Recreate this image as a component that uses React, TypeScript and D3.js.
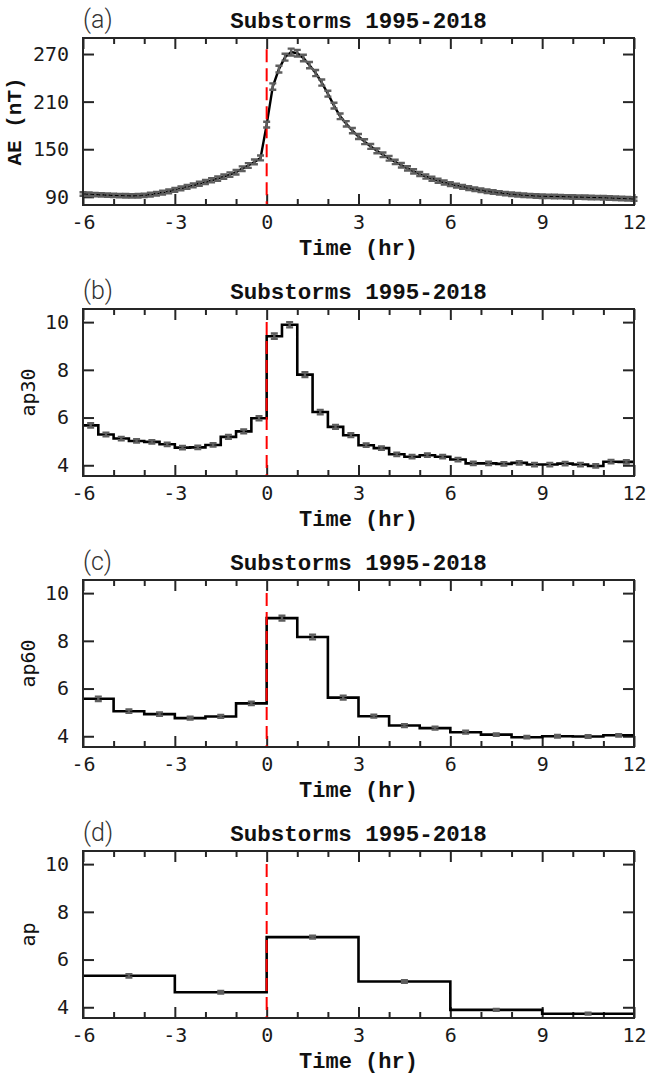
import { useEffect, useRef } from "react";
import * as d3 from "d3";

// ---- data ----
const titleText = "Substorms 1995-2018";
const panelLetters = ["(a)", "(b)", "(c)", "(d)"];
const yLabels = ["AE (nT)", "ap30", "ap60", "ap"];
const xLabel = "Time (hr)";

const xMajorTicks = [-6, -3, 0, 3, 6, 9, 12];
const xMinorTicks = [-5, -4, -2, -1, 1, 2, 4, 5, 7, 8, 10, 11];
const aeTicks = [90, 150, 210, 270];
const apTicks = [4, 6, 8, 10];

// AE: one point every 0.2 hr from -6 to 12
const aeStart = -6;
const aeStepHr = 0.2;
const aeValues = [
  93.5, 93.2, 92.8, 92.5, 92.2, 91.8, 91.5, 91.3, 91.2, 91.4,
  91.9, 92.8, 94.0, 95.3, 97.0, 98.8, 100.6, 102.5, 104.4, 106.5,
  108.6, 110.8, 113.0, 115.4, 118.0, 121.0, 125.5, 129.5, 134.0, 139.0,
  181, 229, 251, 266, 272.5, 271, 265, 256, 246, 234,
  220, 205, 191.5, 182, 173.5, 166, 159.5, 153.5, 148, 143,
  138.5, 134, 129.8, 125.8, 122.1, 118.7, 115.6, 112.8, 110.3, 108.0,
  106.0, 104.2, 102.5, 101.0, 99.6, 98.3, 97.1, 96.0, 95.0, 94.1,
  93.3, 92.6, 92.0, 91.5, 91.1, 90.8, 90.6, 90.4, 90.2, 90.0,
  89.8, 89.6, 89.4, 89.2, 89.0, 88.8, 88.5, 88.2, 87.9, 87.6,
  87.3,
];
const aeErrors = [
  2.2, 2.2, 2.2, 2.2, 2.2, 2.2, 2.2, 2.2, 2.2, 2.2,
  2.2, 2.3, 2.3, 2.3, 2.4, 2.4, 2.4, 2.5, 2.5, 2.5,
  2.6, 2.6, 2.7, 2.7, 2.8, 2.8, 2.9, 3.0, 3.0, 3.1,
  3.6, 4.0, 4.2, 4.3, 4.3, 4.2, 4.1, 4.0, 3.9, 3.8,
  3.7, 3.6, 3.5, 3.4, 3.3, 3.2, 3.1, 3.0, 3.0, 2.9,
  2.9, 2.8, 2.8, 2.7, 2.7, 2.6, 2.6, 2.5, 2.5, 2.5,
  2.4, 2.4, 2.4, 2.3, 2.3, 2.3, 2.3, 2.2, 2.2, 2.2,
  2.2, 2.2, 2.2, 2.2, 2.2, 2.2, 2.2, 2.2, 2.2, 2.2,
  2.2, 2.2, 2.2, 2.2, 2.2, 2.2, 2.2, 2.2, 2.2, 2.2,
  2.2,
];

// ap30: 30-min bins from -6 to 12
const ap30BinHr = 0.5;
const ap30Values = [
  5.67, 5.29, 5.12, 5.02, 4.98, 4.88, 4.74, 4.75, 4.85, 5.19, 5.42, 5.97,
  9.41, 9.89, 7.8, 6.23, 5.61, 5.26, 4.84, 4.72, 4.46, 4.36, 4.42, 4.36,
  4.24, 4.08, 4.08, 4.06, 4.1, 4.03, 4.03, 4.07, 4.03, 3.97, 4.15, 4.14,
];
const ap30Errors = [
  0.09, 0.08, 0.07, 0.07, 0.07, 0.07, 0.07, 0.07, 0.07, 0.08, 0.08, 0.09,
  0.11, 0.11, 0.1, 0.09, 0.08, 0.08, 0.07, 0.07, 0.07, 0.07, 0.07, 0.07,
  0.07, 0.07, 0.07, 0.07, 0.07, 0.07, 0.07, 0.07, 0.07, 0.07, 0.07, 0.07,
];

// ap60: 1-hr bins
const ap60BinHr = 1;
const ap60Values = [
  5.57, 5.05, 4.93, 4.76, 4.83, 5.38, 8.95, 8.16, 5.62,
  4.84, 4.45, 4.34, 4.17, 4.07, 3.96, 4.0, 3.99, 4.04,
];
const ap60Errors = [
  0.09, 0.07, 0.07, 0.06, 0.06, 0.07, 0.1, 0.1, 0.08,
  0.06, 0.06, 0.06, 0.06, 0.05, 0.05, 0.05, 0.05, 0.05,
];

// ap: 3-hr bins
const apBinHr = 3;
const apValues = [5.32, 4.63, 6.94, 5.08, 3.89, 3.73];
const apErrors = [0.07, 0.05, 0.06, 0.05, 0.04, 0.04];

// ---- layout ----
const W = 646, H = 1076;
const plotLeft = 83, plotRight = 634;
const panelTops = [38, 309, 580, 851];
const panelH = 167;

export default function App() {
  const ref = useRef<SVGSVGElement>(null);

  useEffect(() => {
    const svg = d3.select(ref.current);
    svg.selectAll("*").remove();

    const x = d3.scaleLinear().domain([-6, 12]).range([plotLeft, plotRight]);
    const axisColor = "#262626";
    const errColor = "#5e5e5e";
    const tickFmt = (d: any) => (d < 0 ? "-" + Math.abs(d) : String(d));

    const panels = [
      { domain: [79.7, 290.2], ticks: aeTicks, onsetTop: 276, labelX: 21, labelFont: "'Liberation Mono', monospace", labelWeight: "bold", labelSize: 21 },
      { domain: [3.55, 10.55], ticks: apTicks, onsetTop: 10, labelX: 35, labelFont: "'DejaVu Sans Mono', monospace", labelWeight: "normal", labelSize: 20 },
      { domain: [3.55, 10.55], ticks: apTicks, onsetTop: 10, labelX: 35, labelFont: "'DejaVu Sans Mono', monospace", labelWeight: "normal", labelSize: 20 },
      { domain: [3.55, 10.55], ticks: apTicks, onsetTop: 10, labelX: 35, labelFont: "'DejaVu Sans Mono', monospace", labelWeight: "normal", labelSize: 20 },
    ];

    const stairs = [
      { values: ap30Values, errors: ap30Errors, bin: ap30BinHr },
      { values: ap60Values, errors: ap60Errors, bin: ap60BinHr },
      { values: apValues, errors: apErrors, bin: apBinHr },
    ];

    panels.forEach((p, i) => {
      const top = panelTops[i];
      const bottom = top + panelH;
      const y = d3.scaleLinear().domain(p.domain).range([bottom, top]);
      const g = svg.append("g");

      // titles & letters
      g.append("text")
        .attr("x", (plotLeft + plotRight) / 2)
        .attr("y", top - 10)
        .attr("text-anchor", "middle")
        .attr("font-family", "'Liberation Mono', 'Courier New', monospace")
        .attr("font-weight", "bold")
        .attr("font-size", 22.5)
        .attr("fill", "#111")
        .text(titleText);

      g.append("text")
        .attr("x", plotLeft)
        .attr("y", top - 10)
        .attr("font-family", "Roboto, 'Liberation Sans', sans-serif")
        .attr("font-weight", 300)
        .attr("font-size", 25)
        .attr("fill", "#333")
        .text(panelLetters[i]);

      // x label
      g.append("text")
        .attr("x", (plotLeft + plotRight) / 2)
        .attr("y", bottom + 50)
        .attr("text-anchor", "middle")
        .attr("font-family", "'Liberation Mono', 'Courier New', monospace")
        .attr("font-weight", "bold")
        .attr("font-size", 22)
        .attr("fill", "#111")
        .text(xLabel);

      // y label
      g.append("text")
        .attr("transform", `translate(${p.labelX},${(top + bottom) / 2}) rotate(-90)`)
        .attr("text-anchor", "middle")
        .attr("font-family", p.labelFont)
        .attr("font-weight", p.labelWeight)
        .attr("font-size", p.labelSize)
        .attr("fill", "#111")
        .text(yLabels[i]);

      // axes (ticks inward)
      const styleAxis = (sel: any) => {
        sel.select(".domain").remove();
        sel.attr("font-family", "'DejaVu Sans Mono', monospace")
          .attr("font-size", 20)
          .attr("color", axisColor);
        sel.selectAll("line").attr("stroke-width", 2);
        sel.selectAll("text").attr("fill", "#1a1a1a");
      };

      g.append("g").attr("transform", `translate(0,${bottom})`)
        .call(d3.axisBottom(x).tickValues(xMajorTicks).tickSize(-11).tickPadding(10).tickFormat(tickFmt))
        .call(styleAxis);
      g.append("g").attr("transform", `translate(0,${bottom})`)
        .call(d3.axisBottom(x).tickValues(xMinorTicks).tickSize(-6).tickFormat(() => ""))
        .call(styleAxis);
      g.append("g").attr("transform", `translate(0,${top})`)
        .call(d3.axisTop(x).tickValues(xMajorTicks).tickSize(-11).tickFormat(() => ""))
        .call(styleAxis);
      g.append("g").attr("transform", `translate(0,${top})`)
        .call(d3.axisTop(x).tickValues(xMinorTicks).tickSize(-6).tickFormat(() => ""))
        .call(styleAxis);
      g.append("g").attr("transform", `translate(${plotLeft},0)`)
        .call(d3.axisLeft(y).tickValues(p.ticks).tickSize(-11).tickPadding(14).tickFormat(tickFmt))
        .call(styleAxis);
      g.append("g").attr("transform", `translate(${plotRight},0)`)
        .call(d3.axisRight(y).tickValues(p.ticks).tickSize(-11).tickFormat(() => ""))
        .call(styleAxis);

      // data
      let pts: { t: number; v: number; e: number }[];
      if (i === 0) {
        pts = aeValues.map((v, k) => ({ t: aeStart + k * aeStepHr, v, e: aeErrors[k] }));
        const line = d3.line<{ t: number; v: number }>().x(d => x(d.t)).y(d => y(d.v));
        g.append("path").datum(pts).attr("d", line)
          .attr("fill", "none").attr("stroke", "#000").attr("stroke-width", 2.4);
      } else {
        const s = stairs[i - 1];
        pts = s.values.map((v, k) => ({ t: -6 + k * s.bin + s.bin / 2, v, e: s.errors[k] }));
        const steps = s.values.map((v, k) => ({ t: -6 + k * s.bin, v }));
        steps.push({ t: -6 + s.values.length * s.bin, v: s.values[s.values.length - 1] });
        const line = d3.line<{ t: number; v: number }>().x(d => x(d.t)).y(d => y(d.v)).curve(d3.curveStepAfter);
        g.append("path").datum(steps).attr("d", line)
          .attr("fill", "none").attr("stroke", "#000").attr("stroke-width", 2.6);
      }

      // onset marker
      g.append("line")
        .attr("x1", x(0)).attr("x2", x(0))
        .attr("y1", y(p.onsetTop)).attr("y2", bottom)
        .attr("stroke", "#ff0000").attr("stroke-width", 2)
        .attr("stroke-dasharray", "13,6");

      // error bars
      const cap = 3.5;
      g.append("g").selectAll("path").data(pts).join("path")
        .attr("d", d => {
          const cx = x(d.t), y1 = y(d.v + d.e), y2 = y(d.v - d.e);
          return `M${cx - cap},${y1}H${cx + cap}M${cx},${y1}V${y2}M${cx - cap},${y2}H${cx + cap}`;
        })
        .attr("fill", "none").attr("stroke", errColor).attr("stroke-width", 2.4);

      // box
      g.append("rect")
        .attr("x", plotLeft).attr("y", top)
        .attr("width", plotRight - plotLeft).attr("height", panelH)
        .attr("fill", "none").attr("stroke", axisColor).attr("stroke-width", 2);
    });
  }, []);

  return (
    <svg ref={ref} width={W} height={H}
      style={{ position: "absolute", left: 0, top: 0, background: "#fff" }} />
  );
}
